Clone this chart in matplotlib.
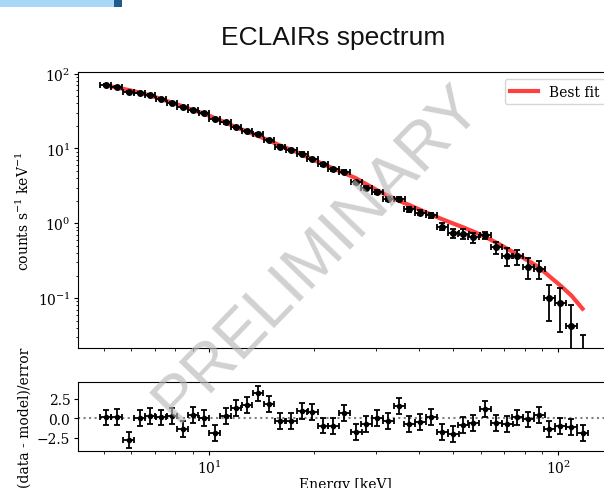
import numpy as np
import matplotlib.pyplot as plt
from matplotlib.patches import Rectangle

plt.rcParams['font.family'] = 'serif'
plt.rcParams['font.serif'] = ['DejaVu Serif']
plt.rcParams['mathtext.fontset'] = 'dejavuserif'
plt.rcParams['font.size'] = 10
plt.rcParams['xtick.major.size'] = 3
plt.rcParams['ytick.major.size'] = 3
plt.rcParams['xtick.minor.size'] = 1.8
plt.rcParams['ytick.minor.size'] = 1.8
plt.rcParams['xtick.major.pad'] = 2.5
plt.rcParams['ytick.major.pad'] = 2.5

# bin centres (keV)
energy = [5.07, 5.45, 5.90, 6.34, 6.78, 7.29, 7.84, 8.42, 9.00, 9.68,
          10.40, 11.18, 11.95, 12.85, 13.82, 14.86, 15.97, 17.18, 18.47, 19.73,
          21.21, 22.66, 24.37, 26.38, 28.18, 30.29, 32.58, 35.03, 37.42, 40.23,
          43.26, 46.51, 50.01, 53.43, 57.07, 61.79, 66.43, 71.43, 76.29, 82.03,
          88.22, 94.24, 101.3, 108.9, 117.2]
bin_ratio = 1.074   # width of one log bin (hi/lo)

flux = [69.8, 65.6, 57.0, 55.8, 51.4, 45.9, 41.0, 35.5, 32.8, 29.3,
        24.6, 22.2, 19.5, 17.2, 15.6, 12.9, 10.6, 9.5, 8.5, 7.2,
        6.1, 5.25, 4.89, 3.52, 2.93, 2.65, 2.11, 2.09, 1.54, 1.39,
        1.27, 0.90, 0.736, 0.728, 0.645, 0.698, 0.474, 0.366, 0.36, 0.264,
        0.246, 0.100, 0.085, 0.042, 0.012]
flux_err = [2.0, 1.9, 1.6, 1.6, 1.5, 1.4, 1.3, 1.1, 1.0, 0.9,
            0.8, 0.7, 0.62, 0.55, 0.5, 0.44, 0.38, 0.35, 0.32, 0.29,
            0.26, 0.23, 0.22, 0.2, 0.17, 0.16, 0.14, 0.13, 0.11, 0.1,
            0.1, 0.095, 0.11, 0.11, 0.1, 0.077, 0.084, 0.1, 0.083, 0.082,
            0.066, 0.05, 0.05, 0.04, 0.02]
model = [69.6, 65.0, 60.3, 55.7, 51.0, 45.8, 40.7, 36.5, 32.5, 29.2,
         25.4, 22.1, 19.2, 16.8, 14.7, 12.7, 10.95, 9.6, 8.3, 7.15,
         6.2, 5.4, 4.68, 3.98, 3.33, 2.76, 2.32, 1.99, 1.75, 1.51,
         1.30, 1.13, 0.99, 0.88, 0.775, 0.655, 0.55, 0.455, 0.38, 0.315,
         0.255, 0.195, 0.147, 0.108, 0.072]
resid = [0.1, 0.2, -2.75, 0.05, 0.25, 0.1, 0.3, -1.35, 0.45, 0.05,
         -1.9, 0.3, 1.26, 1.68, 3.15, 1.8, -0.3, -0.3, 0.96, 0.8,
         -0.93, -1.0, 0.7, -1.77, -0.72, 0.0, -0.3, 1.6, -0.72, -0.5,
         0.2, -1.7, -2.0, -0.9, -0.6, 1.17, -0.6, -0.7, 0.1, -0.15,
         0.4, -1.4, -1.0, -1.15, -1.85]

E = np.array(energy)
h = np.sqrt(bin_ratio)
xerr = [E - E / h, E * h - E]

fig = plt.figure(figsize=(6.04, 4.89), dpi=100)

# slide decoration + title
fig.add_artist(Rectangle((0, 1 - 8/489), 114/604, 8/489, transform=fig.transFigure,
                         color='#a9d7f7', lw=0))
fig.add_artist(Rectangle((114/604, 1 - 8/489), 8/604, 8/489, transform=fig.transFigure,
                         color='#1e5b8e', lw=0))
fig.text(333/604, 1 - 45/489, 'ECLAIRs spectrum', ha='center', va='baseline',
         fontsize=19, family='Liberation Sans', color='#111111')

ax = fig.add_axes([78/604, 1 - 349/489, 534/604, 276/489])
ax.plot(E, model, color='red', lw=3, alpha=0.75, label='Best fit', zorder=2)
ax.errorbar(E, flux, xerr=xerr, yerr=flux_err, fmt='o', color='black', ms=4,
            capsize=2, elinewidth=1.3, capthick=1.3, zorder=3)
ax.set_xscale('log')
ax.set_yscale('log')
ax.set_xlim(4.22, 142.3)
ax.set_ylim(0.0215, 105)
ax.tick_params(labelbottom=False)
ax.set_ylabel(r'counts s$^{-1}$ keV$^{-1}$')
ax.legend(loc='upper right')

rx = fig.add_axes([78/604, 1 - 452/489, 534/604, 69/489], sharex=ax)
rx.axhline(0, color='gray', ls=':', lw=1.5, zorder=1)
rx.errorbar(E, resid, xerr=xerr, yerr=1, fmt='o', color='black', ms=3,
            capsize=2, elinewidth=1.3, capthick=1.3, zorder=3)
rx.set_ylim(-4.15, 4.6)
rx.set_yticks([-2.5, 0.0, 2.5])
rx.set_xlabel('Energy [keV]', labelpad=1)
rx.set_ylabel('(data - model)/error')

# watermark
fig.text(318/604, 1 - 254/489, 'PRELIMINARY', rotation=46, ha='center', va='center',
         fontsize=47, family='Liberation Sans', color='#b8b8b8', alpha=0.65, zorder=10)

fig.savefig('out.png', dpi=100)
